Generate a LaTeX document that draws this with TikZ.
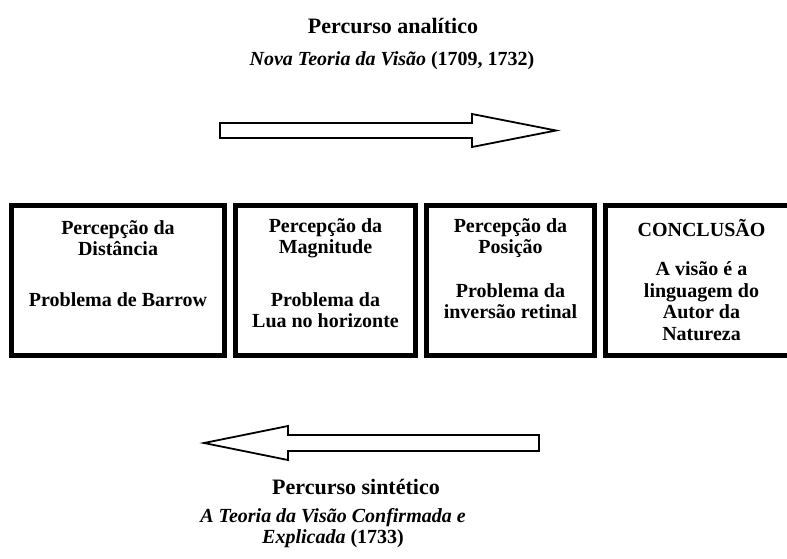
\documentclass[tikz,border=0pt]{standalone}
\usepackage{fontspec}
\setmainfont{Liberation Serif}
\usetikzlibrary{positioning}
\tikzset{%
	etapa/.style  = {draw, line width=5pt, rectangle, minimum height=150pt}, % Box
	rotulo/.style = {font=\bfseries\fontsize{20}{21.5}\selectfont, align=center}, % Box text
	titulo/.style = {font=\bfseries\fontsize{22}{24}\selectfont}, % Heading
	seta/.style   = {draw, line width=1.8pt, fill=white, line join=miter}, % Block arrow
}

\begin{document}
\begin{tikzpicture}[x=1pt,y=-1pt,node distance=6pt]
	\useasboundingbox (0,0) rectangle (787,558);
	\clip (0,0) rectangle (787,558);
	
	\node [titulo] (ana) at (393,26) {Percurso analítico};
	\node [rotulo] (nova) at (392,61) {\textit{Nova Teoria da Visão} (1709, 1732)};
	
	\node [etapa, minimum width=213pt] (b1) at (118,280.5) {};
	\node [etapa, minimum width=180pt] (b2) [right=of b1] {};
	\node [etapa, minimum width=168pt] (b3) [right=of b2] {};
	\node [etapa, minimum width=192pt] (b4) [right=of b3] {};
	
	\node [rotulo] (t1) at (b1.center |- 0,238) {Percepção da\\Distância};
	\node [rotulo] (u1) at (b1.center |- 0,300) {Problema de Barrow};
	\node [rotulo] (t2) at (b2.center |- 0,238) {Percepção da\\Magnitude};
	\node [rotulo] (u2) at (b2.center |- 0,310) {Problema da\\Lua no horizonte};
	\node [rotulo] (t3) at (b3.center |- 0,238) {Percepção da\\Posição};
	\node [rotulo] (u3) at (b3.center |- 0,301) {Problema da\\inversão retinal};
	\node [rotulo] (t4) at (b4.center |- 0,228) {CONCLUSÃO};
	\node [rotulo] (u4) at (b4.center |- 0,301) {A visão é a\\linguagem do\\Autor da\\Natureza};
	
	% analytic path
	\draw [seta] (220,123) -- (472,123) -- (472,114) -- (556,130.5) -- (472,147) -- (472,138) -- (220,138) -- cycle;
	% synthetic path
	\draw [seta] (539,435) -- (288,435) -- (288,426) -- (204,443) -- (288,460) -- (288,451) -- (539,451) -- cycle;
	
	\node [titulo] (sin) at (356,487) {Percurso sintético};
	\node [rotulo] (conf) at (333,528) {\textit{A Teoria da Visão Confirmada e}\\\textit{Explicada} (1733)};
\end{tikzpicture}
\end{document}
